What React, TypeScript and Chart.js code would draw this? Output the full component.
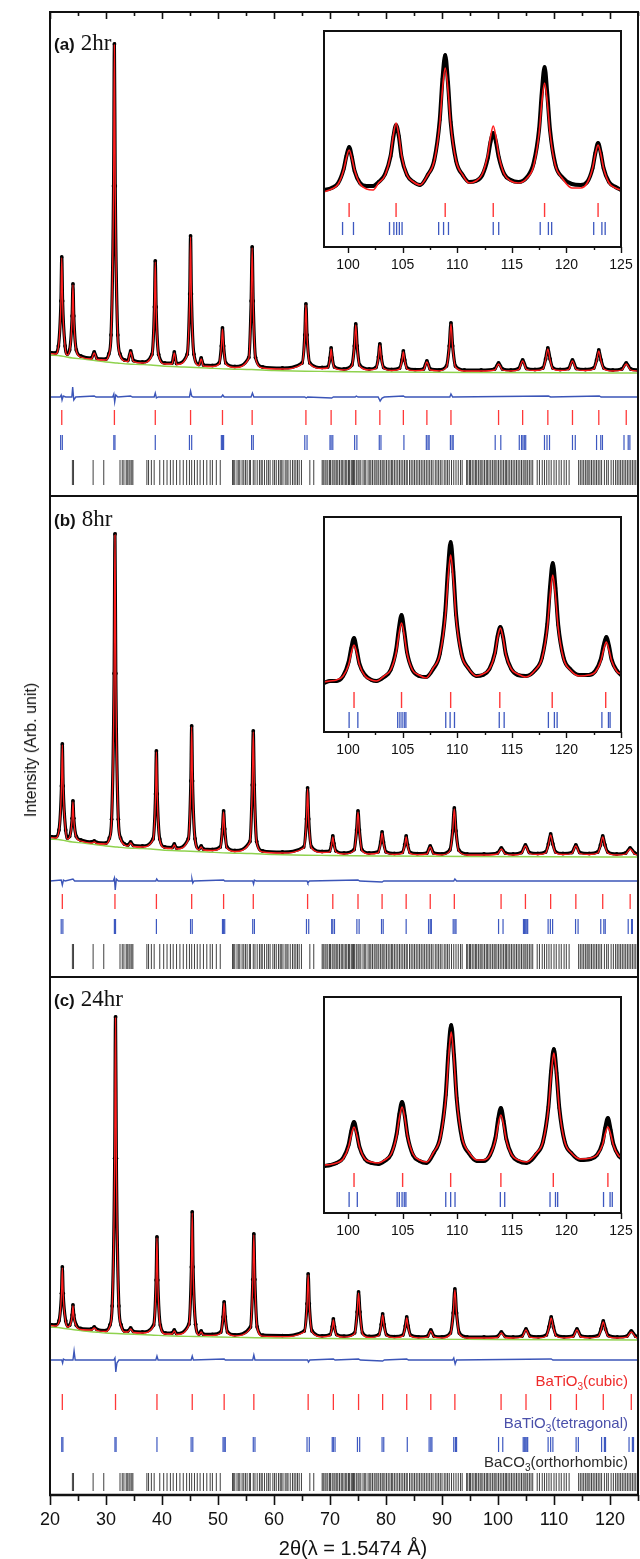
import { useEffect, useRef } from "react";
import { Chart, registerables } from "chart.js";

Chart.register(...registerables);

type P = [number, number];

// ---------------- axis values ----------------
const X_MIN = 20;
const X_MAX = 125;
const INSET_X_MIN = 97.8;
const INSET_X_MAX = 125;
const PANEL_LETTERS = ["(a)", "(b)", "(c)"];
const PANEL_TIMES = ["2hr", "8hr", "24hr"];
const PHASE_NAMES: [string, string, string][] = [
  ["BaTiO", "3", "(cubic)"],
  ["BaTiO", "3", "(tetragonal)"],
  ["BaCO", "3", "(orthorhombic)"],
];
const X_TITLE = "2\u03B8(\u03BB = 1.5474 \u00C5)";
const Y_TITLE = "Intensity (Arb. unit)";

// ---------------- main patterns (observed ~ calculated), arb. units ----------------
const profileA: P[] = [
  [20.0, 19.5], [21.0, 19], [21.5, 26], [21.95, 71], [22.1, 115], [22.25, 71], [22.7, 26], [23.1, 18],
  [23.5, 22], [23.95, 56], [24.1, 88], [24.25, 56], [24.7, 22], [25.5, 16], [27.4, 14], [27.9, 20], [28.4, 13.5],
  [30.0, 13], [30.5, 18], [30.9, 37], [31.35, 186], [31.5, 328], [31.65, 186], [32.1, 37], [32.5, 18], [33.3, 12],
  [33.9, 11.5], [34.4, 21], [34.9, 11.5], [36.5, 10], [38.2, 17.6], [38.65, 65], [38.8, 111], [38.95, 65], [39.4, 17.6],
  [40.5, 9], [41.8, 9], [42.2, 20], [42.6, 8.5], [44.5, 17.8], [44.95, 78], [45.1, 136], [45.25, 78], [45.7, 17.8],
  [46.6, 7.5], [47.0, 14], [47.4, 7], [49.0, 6.5], [50.2, 9], [50.6, 26], [50.8, 44], [51.0, 26], [51.4, 9], [53.0, 5.5],
  [55.5, 14.6], [55.92, 71], [56.1, 125], [56.28, 71], [56.7, 14.6], [58.0, 5], [61.5, 4], [65.0, 9], [65.5, 37],
  [65.7, 68], [65.9, 37], [66.4, 9], [68.6, 4.5], [69.6, 5], [70.0, 14], [70.2, 24], [70.4, 14], [70.8, 5], [72.5, 3],
  [73.9, 7], [74.35, 26], [74.6, 48], [74.85, 26], [75.3, 7], [77.0, 3], [78.2, 4.5], [78.65, 15], [78.9, 28],
  [79.15, 15], [79.6, 4.5], [81.0, 2.5], [82.4, 3.8], [82.85, 12], [83.1, 21], [83.35, 12], [83.8, 3.8], [85.2, 2.3],
  [86.7, 3], [87.3, 11], [87.9, 3], [89.5, 2.2], [90.8, 6], [91.3, 26], [91.6, 49], [91.9, 26], [92.4, 6], [94.0, 2],
  [97.0, 2], [99.4, 3], [100.1, 9], [100.8, 3], [102.3, 2], [103.7, 3.5], [104.4, 12], [105.1, 3.5], [106.6, 2.5],
  [108.0, 4], [108.5, 13], [108.9, 24], [109.3, 13], [109.8, 4], [111.1, 2.5], [112.6, 3.5], [113.3, 12], [114.0, 3.5],
  [115.6, 2.5], [117.1, 4], [117.6, 12], [118.0, 22], [118.4, 12], [118.9, 4], [120.5, 2], [122.1, 3], [122.9, 9],
  [123.7, 3], [125.0, 2],
];
const profileB: P[] = [
  [20.0, 19.5], [21.0, 19], [21.6, 26], [22.05, 70], [22.2, 112], [22.35, 70], [22.8, 26], [23.1, 18], [23.5, 19.6],
  [23.95, 37.7], [24.1, 55], [24.25, 37.7], [24.7, 19.6], [25.5, 16], [27.4, 14], [27.9, 15], [28.4, 13.5], [30.0, 13],
  [30.6, 18], [31.0, 36.8], [31.45, 182.5], [31.6, 322], [31.75, 182.5], [32.2, 36.8], [32.6, 18], [33.3, 12], [33.9, 11],
  [34.4, 14], [34.9, 10.5], [36.5, 10], [38.4, 17], [38.85, 62], [39.0, 105], [39.15, 62], [39.6, 17], [40.5, 9],
  [41.8, 8.5], [42.2, 12], [42.6, 8], [44.7, 17.3], [45.15, 75], [45.3, 130], [45.45, 75], [45.9, 17.3], [46.6, 7.2],
  [47.0, 10], [47.4, 7], [49.0, 6.5], [50.4, 9], [50.8, 27], [51.0, 45], [51.2, 27], [51.6, 9], [53.0, 5.5], [55.7, 14.6],
  [56.12, 71], [56.3, 125], [56.48, 71], [56.9, 14.6], [58.0, 5], [61.5, 4], [65.3, 9], [65.8, 37], [66.0, 68],
  [66.2, 37], [66.7, 9], [68.6, 4.5], [69.9, 4.8], [70.3, 12.5], [70.5, 20], [70.7, 12.5], [71.1, 4.8], [72.5, 3],
  [74.3, 6.4], [74.75, 26], [75.0, 45], [75.25, 26], [75.7, 6.4], [77.0, 3], [78.6, 4.2], [79.05, 14], [79.3, 24],
  [79.55, 14], [80.0, 4.2], [81.5, 2.5], [82.9, 3.6], [83.35, 11.5], [83.6, 20], [83.85, 11.5], [84.3, 3.6], [85.6, 2.3],
  [87.3, 3], [87.9, 10], [88.5, 3], [90.0, 2.2], [91.4, 6], [91.9, 25], [92.2, 48], [92.5, 25], [93.0, 6], [94.5, 2],
  [97.5, 2], [99.9, 3], [100.6, 8], [101.3, 3], [102.7, 2], [104.2, 3.5], [104.9, 11], [105.6, 3.5], [107.1, 2.5],
  [108.5, 4], [109.0, 12], [109.4, 22], [109.8, 12], [110.3, 4], [111.6, 2.5], [113.2, 3.5], [113.9, 11], [114.6, 3.5],
  [116.3, 2.5], [117.8, 4], [118.3, 11], [118.7, 20], [119.1, 11], [119.6, 4], [121.2, 2], [122.8, 3], [123.6, 8],
  [124.4, 3], [125.0, 2],
];
const profileC: P[] = [
  [20.0, 14.5], [21.0, 14], [21.6, 18.2], [22.05, 45.7], [22.2, 72], [22.35, 45.7], [22.8, 18.2], [23.2, 13], [23.5, 13.8],
  [23.95, 24.1], [24.1, 34], [24.25, 24.1], [24.7, 13.8], [25.5, 10.5], [27.4, 10], [27.9, 12], [28.4, 9.5], [30.0, 8.5],
  [30.7, 14], [31.1, 33], [31.55, 180.7], [31.7, 322], [31.85, 180.7], [32.3, 33], [32.7, 14], [33.3, 8], [33.9, 8],
  [34.4, 11], [34.9, 7.5], [36.5, 7], [38.5, 13.9], [38.95, 58.9], [39.1, 102], [39.25, 58.9], [39.7, 13.9], [40.6, 6],
  [41.8, 6], [42.2, 9], [42.6, 5.5], [44.8, 14.8], [45.25, 72], [45.4, 127], [45.55, 72], [46.0, 14.8], [46.6, 5],
  [47.0, 8], [47.4, 4.8], [49.0, 4.6], [50.5, 7], [50.9, 22], [51.1, 37], [51.3, 22], [51.7, 7], [53.0, 4.2], [55.8, 12],
  [56.22, 59.5], [56.4, 105], [56.58, 59.5], [57.0, 12], [58.0, 3.8], [61.5, 3.4], [65.4, 8], [65.9, 35.3], [66.1, 65],
  [66.3, 35.3], [66.8, 8], [68.6, 3.2], [70.0, 4.4], [70.4, 12.3], [70.6, 20], [70.8, 12.3], [71.2, 4.4], [72.5, 2.8],
  [74.4, 6.2], [74.85, 27], [75.1, 47], [75.35, 27], [75.8, 6.2], [77.0, 2.6], [78.7, 4.3], [79.15, 14.5], [79.4, 25],
  [79.65, 14.5], [80.1, 4.3], [81.5, 2.4], [83.0, 3.9], [83.45, 13], [83.7, 22], [83.95, 13], [84.4, 3.9], [85.8, 2.2],
  [87.4, 2.8], [88.0, 9], [88.6, 2.8], [90.0, 2.1], [91.5, 6], [92.0, 26], [92.3, 50], [92.6, 26], [93.1, 6], [94.5, 2],
  [97.5, 2], [99.9, 2.5], [100.6, 7], [101.3, 2.5], [102.7, 2], [104.3, 3], [105.0, 10], [105.7, 3], [107.2, 2.2],
  [108.6, 3.8], [109.1, 12], [109.5, 22], [109.9, 12], [110.4, 3.8], [111.8, 2.2], [113.4, 3], [114.1, 10], [114.8, 3],
  [116.4, 2.2], [117.9, 3.5], [118.4, 10], [118.8, 18], [119.2, 10], [119.7, 3.5], [121.3, 2], [123.0, 2.8], [123.8, 8],
  [124.6, 2.8], [125.0, 2],
];

// background (green)
const bgA: P[] = [
  [20, 18], [22, 17], [24, 15], [26, 14], [28, 12.5], [30, 11], [32, 10], [34, 9], [36, 8.5], [38, 8], [40, 7],
  [44, 6], [48, 5], [52, 4], [56, 3.5], [60, 2.5], [70, 1.5], [80, 1], [95, 0.5], [110, 0.2], [125, 0],
];
const bgB: P[] = [
  [20, 18], [22, 17], [24, 15], [26, 14], [28, 12.5], [30, 11], [32, 10], [34, 9], [36, 8.5], [38, 8], [40, 7],
  [44, 6], [48, 5], [52, 4], [56, 3.5], [60, 2.5], [70, 1.5], [80, 1], [95, 0.5], [110, 0.2], [125, 0],
];
const bgC: P[] = [
  [20, 13], [22, 12], [24, 10.5], [26, 9], [28, 8], [30, 7], [34, 6], [38, 5], [42, 4], [46, 3.5], [50, 3],
  [55, 2.5], [60, 2], [70, 1.5], [80, 1], [100, 0.5], [125, 0],
];

// difference curves (obs - calc)
const diffA: P[] = [
  [20, 0], [21.8, 0], [22.0, 2], [22.15, -3], [22.35, 1], [22.8, 0], [23.9, 0], [24.05, 10], [24.25, -3], [24.6, 0],
  [27.9, 1], [28.2, 0], [31.2, 0], [31.4, 3], [31.55, -5], [31.75, 2], [32.1, 0], [34.4, 1], [34.7, 0], [38.6, 0],
  [38.8, 4], [39.0, -1], [39.3, 0], [44.9, 0], [45.1, 6], [45.3, 1], [45.6, 0], [50.6, 0], [50.85, 2], [51.1, 0],
  [55.9, 0], [56.15, 4], [56.4, 0], [65.5, 0], [65.75, -1], [66.0, 0], [70.3, -1], [70.6, 0], [74.5, 0], [74.7, 1],
  [75.0, 0], [78.6, 0], [78.95, -4], [79.3, -1], [79.7, 0], [83.1, 1], [83.4, 0], [91.4, 0], [91.6, 3], [91.9, 0],
  [109, 1], [109.4, 0], [118.1, 1], [118.4, 0], [125, 0],
];
const diffB: P[] = [
  [20, 0], [22.0, 1], [22.2, -4], [22.4, 1], [22.7, 0], [24.1, 2], [24.4, 0], [31.3, 0], [31.5, 3], [31.65, -9],
  [31.85, 2], [32.2, 0], [38.9, 0], [39.05, 2], [39.3, 0], [45.2, 0], [45.35, 2], [45.5, -2], [45.7, 0], [51.0, 1],
  [51.2, 0], [56.2, 0], [56.35, -3], [56.5, 1], [56.8, 0], [65.9, 0], [66.05, -2], [66.3, 0], [75.0, 1], [75.3, 0],
  [79.3, -1], [79.6, 0], [92.1, 0], [92.3, 2], [92.6, 0], [125, 0],
];
const diffC: P[] = [
  [20, 0], [22.1, 0], [22.25, -3], [22.4, 1], [22.7, 0], [24.1, 0], [24.3, 9], [24.5, 0], [31.4, 0], [31.6, 2],
  [31.75, -12], [31.95, -3], [32.3, 0], [38.9, 0], [39.1, 4], [39.3, 0], [45.2, 0], [45.4, 4], [45.6, 0], [51.1, 1],
  [51.3, 0], [56.2, 0], [56.4, 5], [56.6, 0], [66.0, 0], [66.15, -2], [66.4, 0], [70.6, 1], [70.9, 0], [75.1, 1],
  [75.4, 0], [79.4, -1], [79.7, 0], [83.7, 1], [84.0, 0], [91.9, 0], [92.1, 2], [92.35, -4], [92.6, 0], [109.5, 1],
  [109.8, 0], [125, 0],
];

// Bragg positions
const cubicA = [22.1, 31.5, 38.8, 45.1, 50.8, 56.1, 65.7, 70.2, 74.6, 78.9, 83.1, 87.3, 91.6, 100.1, 104.4, 108.9, 113.3, 118.0, 122.9];
const cubicB = [22.2, 31.6, 39.0, 45.3, 51.0, 56.3, 66.0, 70.5, 75.0, 79.3, 83.6, 87.9, 92.2, 100.55, 104.9, 109.4, 113.9, 118.7, 123.6];
const cubicC = [22.2, 31.7, 39.1, 45.4, 51.1, 56.4, 66.1, 70.6, 75.1, 79.4, 83.7, 88.0, 92.3, 100.55, 105.0, 109.4, 114.0, 118.8, 123.8];

const tetraA = [21.9, 22.2, 31.4, 31.6, 38.8, 44.9, 45.3, 50.6, 50.8, 51.0, 56.0, 56.3, 65.5, 65.9, 70.0, 70.2, 70.5,
  74.4, 74.8, 78.8, 79.1, 83.2, 87.2, 87.5, 87.7, 91.5, 91.8, 92.0, 99.5, 100.5, 103.8, 104.2, 104.45, 104.7, 104.95,
  108.3, 108.75, 109.2, 113.3, 113.8, 117.6, 118.35, 118.65, 122.5, 123.25, 123.55];
const tetraB = [22.0, 22.3, 31.5, 31.7, 39.0, 45.1, 45.4, 50.8, 51.0, 51.2, 56.2, 56.5, 65.8, 66.2, 70.3, 70.5, 70.8,
  74.8, 75.2, 79.2, 79.5, 83.6, 87.6, 87.9, 88.1, 92.0, 92.3, 92.5, 100.1, 100.9, 104.55, 104.75, 104.95, 105.15, 105.3,
  108.95, 109.35, 109.75, 113.85, 114.3, 118.35, 118.9, 119.15, 123.25, 123.85, 124.0];
const tetraC = [22.1, 22.3, 31.6, 31.8, 39.1, 45.2, 45.5, 50.9, 51.1, 51.3, 56.3, 56.6, 65.9, 66.3, 70.4, 70.6, 70.9,
  74.9, 75.3, 79.3, 79.6, 83.8, 87.7, 88.0, 88.2, 92.1, 92.4, 92.6, 100.1, 100.85, 104.5, 104.7, 104.95, 105.15, 105.3,
  108.95, 109.4, 109.8, 113.95, 114.35, 118.5, 119.0, 119.2, 123.4, 124.0, 124.2];

const baco3 = [
  24.0, 24.2, 27.7, 29.6,
  32.5, 32.9, 33.2, 33.6, 33.8, 34.1, 34.3, 34.6, 34.8,
  37.3, 37.6, 38.1, 38.6, 39.6, 40.3, 40.9, 41.5, 42.0, 42.6, 43.2, 43.8, 44.4, 44.9, 45.3, 45.8, 46.3, 46.8, 47.4,
  48.0, 48.6, 49.0, 49.7, 50.4,
  52.6, 52.8, 53.0, 53.4, 53.7, 53.9, 54.3, 54.6, 54.9, 55.2, 55.6, 55.8, 56.3, 56.6, 57.0, 57.4, 57.7, 57.9, 58.3,
  58.7, 59.0, 59.3, 59.8, 60.1, 60.4, 60.8, 61.1, 61.3, 61.6, 62.0, 62.3, 62.5, 62.9, 63.3, 63.6, 63.9, 64.2, 64.5, 64.9,
  66.4, 67.1,
  68.6, 68.8, 69.1, 69.3, 69.6, 69.9, 70.1, 70.4, 70.7, 70.9, 71.2, 71.4, 71.7, 72.0, 72.2, 72.5, 72.8, 73.0, 73.3,
  73.5, 73.8, 74.0, 74.2, 74.4, 74.7, 75.0, 75.2, 75.5, 75.9, 76.2, 76.4, 76.8, 77.1, 77.3, 77.6, 77.9, 78.2, 78.4,
  78.7, 79.0, 79.3, 79.5, 79.8, 80.1, 80.4, 80.7, 81.0, 81.2, 81.5, 81.8, 82.1, 82.4, 82.7, 83.0, 83.3, 83.6, 83.8,
  84.2, 84.5, 84.8, 85.1, 85.4, 85.7, 86.0, 86.3, 86.6, 86.9, 87.2, 87.5, 87.8, 88.1, 88.4, 88.8, 89.1, 89.4, 89.7,
  90.0, 90.4, 90.7, 91.0, 91.3, 91.7, 92.1, 92.5, 92.9, 93.3, 93.6,
  94.4, 94.6, 94.9, 95.1, 95.4, 95.7, 96.0, 96.2, 96.5, 96.8, 97.0, 97.3, 97.6, 97.9, 98.1, 98.4, 98.7, 99.0, 99.3,
  99.5, 99.8, 100.1, 100.4, 100.7, 101.0, 101.3, 101.5, 101.8, 102.1, 102.4, 102.7, 103.0, 103.3, 103.6, 103.9, 104.2,
  104.5, 104.8, 105.0, 105.3, 105.6, 105.9, 106.2,
  107.0, 107.4, 107.9, 108.3, 108.7, 109.1, 109.5, 110.0, 110.4, 110.9, 111.3, 111.8, 112.2, 112.7,
  114.4, 114.7, 115.0, 115.3, 115.6, 115.9, 116.1, 116.4, 116.7, 117.0, 117.3, 117.6, 117.9, 118.2, 118.5,
  119.0, 119.4, 119.7, 120.2, 120.6, 121.0, 121.3, 121.6, 121.9, 122.2, 122.5, 122.8, 123.1, 123.4, 123.7, 124.0,
  124.3, 124.6, 124.9,
];

// ---------------- insets (high-angle zoom), arb. units ----------------
const insetCalcA: P[] = [
  [97.8, 55], [98.5, 58], [99.1, 63], [99.6, 77], [99.85, 89], [100.1, 97], [100.35, 89], [100.6, 77], [101.1, 63],
  [101.7, 58], [102.3, 57], [102.8, 64], [103.4, 72], [103.9, 92], [104.15, 112], [104.4, 124], [104.65, 112],
  [104.9, 92], [105.4, 72], [106.0, 65], [106.6, 62], [107.3, 72], [107.9, 86], [108.4, 123], [108.65, 158],
  [108.9, 179], [109.15, 158], [109.4, 123], [109.9, 86], [110.5, 72], [111.1, 64], [111.7, 66], [112.3, 73],
  [112.8, 92], [113.05, 110], [113.3, 121], [113.55, 110], [113.8, 92], [114.3, 73], [114.9, 66], [115.6, 64],
  [116.4, 69], [117.0, 81], [117.5, 114], [117.75, 145], [118.0, 164], [118.25, 145], [118.5, 114], [119.0, 81],
  [119.6, 69], [120.5, 59], [121.3, 59], [121.9, 64], [122.4, 79], [122.65, 93], [122.9, 102], [123.15, 93],
  [123.4, 79], [123.9, 64], [124.5, 59], [125.0, 57],
];
const insetObsA: P[] = [
  [97.8, 57], [98.5, 59], [99.1, 64], [99.6, 78], [99.85, 91], [100.1, 100], [100.35, 90], [100.6, 76], [101.1, 64],
  [101.7, 61], [102.3, 61], [102.8, 65], [103.4, 73], [103.9, 91], [104.15, 110], [104.4, 122], [104.65, 111],
  [104.9, 90], [105.4, 72], [106.0, 65], [106.6, 62], [107.3, 72], [107.9, 87], [108.4, 127], [108.65, 168],
  [108.9, 192], [109.15, 165], [109.4, 125], [109.9, 86], [110.5, 72], [111.1, 65], [111.7, 66], [112.3, 72],
  [112.8, 89], [113.05, 105], [113.3, 114], [113.55, 105], [113.8, 90], [114.3, 73], [114.9, 67], [115.6, 65],
  [116.4, 70], [117.0, 84], [117.5, 118], [117.75, 155], [118.0, 180], [118.25, 153], [118.5, 117], [119.0, 82],
  [119.6, 70], [120.5, 63], [121.3, 62], [121.9, 65], [122.4, 79], [122.65, 94], [122.9, 104], [123.15, 94],
  [123.4, 79], [123.9, 65], [124.5, 60], [125.0, 57],
];
const insetCalcB: P[] = [
  [97.8, 50], [98.35, 51], [98.95, 52], [99.55, 56], [100.05, 67], [100.3, 79], [100.55, 87], [100.8, 79], [101.05, 67],
  [101.55, 56], [102.15, 52], [102.6, 51], [103.3, 56], [103.9, 62], [104.4, 79], [104.65, 97], [104.9, 109],
  [105.15, 97], [105.4, 79], [105.9, 62], [106.5, 57], [107.15, 54], [107.8, 64], [108.4, 77], [108.9, 114],
  [109.15, 152], [109.4, 177], [109.65, 152], [109.9, 114], [110.4, 77], [111.0, 64], [111.75, 56], [112.35, 58],
  [112.95, 63], [113.45, 78], [113.7, 94], [113.95, 104], [114.2, 94], [114.45, 78], [114.95, 63], [115.55, 58],
  [116.3, 55], [117.15, 62], [117.75, 73], [118.25, 104], [118.5, 136], [118.75, 157], [119.0, 136], [119.25, 104],
  [119.75, 73], [120.35, 62], [121.2, 56], [122.05, 57], [122.65, 60], [123.15, 71], [123.4, 82], [123.65, 90],
  [123.9, 82], [124.15, 71], [124.65, 60], [125.0, 58],
];
const insetObsB: P[] = [
  [97.8, 49], [98.35, 51], [98.95, 51], [99.55, 56], [100.05, 70], [100.3, 84], [100.55, 94], [100.8, 82], [101.05, 68],
  [101.55, 57], [102.15, 52], [102.6, 51], [103.3, 55], [103.9, 62], [104.4, 82], [104.65, 103], [104.9, 117],
  [105.15, 101], [105.4, 80], [105.9, 62], [106.5, 56], [107.15, 55], [107.8, 63], [108.4, 78], [108.9, 119],
  [109.15, 162], [109.4, 190], [109.65, 160], [109.9, 117], [110.4, 78], [111.0, 64], [111.75, 56], [112.35, 57],
  [112.95, 63], [113.45, 79], [113.7, 96], [113.95, 105], [114.2, 95], [114.45, 78], [114.95, 63], [115.55, 57],
  [116.3, 56], [117.15, 62], [117.75, 74], [118.25, 108], [118.5, 145], [118.75, 169], [119.0, 144], [119.25, 107],
  [119.75, 74], [120.35, 63], [121.2, 57], [122.05, 57], [122.65, 61], [123.15, 73], [123.4, 86], [123.65, 95],
  [123.9, 86], [124.15, 72], [124.65, 61], [125.0, 57],
];
const insetCalcC: P[] = [
  [97.8, 48], [98.4, 48.5], [98.95, 50], [99.55, 54], [100.05, 66], [100.3, 78], [100.55, 86], [100.8, 78],
  [101.05, 66], [101.55, 54], [102.15, 51], [102.8, 50], [103.35, 53], [103.95, 59], [104.45, 77], [104.7, 95],
  [104.95, 106], [105.2, 95], [105.45, 77], [105.95, 59], [106.55, 53], [107.2, 51], [107.85, 61], [108.45, 75],
  [108.95, 114], [109.2, 154], [109.45, 181], [109.7, 154], [109.95, 114], [110.45, 75], [111.05, 61], [111.8, 53],
  [112.4, 53], [113.0, 58], [113.5, 73], [113.75, 88], [114.0, 98], [114.25, 88], [114.5, 73], [115.0, 58],
  [115.6, 53], [116.35, 51], [117.25, 60], [117.85, 71], [118.35, 104], [118.6, 138], [118.85, 160], [119.1, 138],
  [119.35, 104], [119.85, 71], [120.45, 60], [121.3, 54], [122.2, 55], [122.8, 58], [123.3, 68], [123.55, 79],
  [123.8, 86], [124.05, 79], [124.3, 68], [124.8, 57], [125.0, 56],
];
const insetObsC: P[] = [
  [97.8, 47], [98.4, 48], [98.95, 50], [99.55, 55], [100.05, 68], [100.3, 82], [100.55, 91], [100.8, 80],
  [101.05, 66], [101.55, 54], [102.15, 50], [102.8, 49], [103.35, 52], [103.95, 59], [104.45, 79], [104.7, 99],
  [104.95, 111], [105.2, 97], [105.45, 77], [105.95, 58], [106.55, 52], [107.2, 50], [107.85, 60], [108.45, 76],
  [108.95, 118], [109.2, 162], [109.45, 188], [109.7, 158], [109.95, 115], [110.45, 74], [111.05, 60], [111.8, 52],
  [112.4, 52], [113.0, 58], [113.5, 75], [113.75, 94], [114.0, 105], [114.25, 92], [114.5, 74], [115.0, 58],
  [115.6, 52], [116.35, 50], [117.25, 59], [117.85, 71], [118.35, 106], [118.6, 142], [118.85, 164], [119.1, 140],
  [119.35, 105], [119.85, 71], [120.45, 60], [121.3, 53], [122.2, 54], [122.8, 58], [123.3, 70], [123.55, 85],
  [123.8, 95], [124.05, 83], [124.3, 69], [124.8, 57], [125.0, 55],
];

// ---------------- styling / layout constants ----------------
const SANS = "'Liberation Sans', Arial, Helvetica, sans-serif";
const SERIF = "'Liberation Serif', 'Times New Roman', serif";
const RED = "#ff1e1e";
const TICK_RED = "#ff3838";
const BLUE = "#3b55b8";
const TICK_BLUE = "#3d58c0";
const GREEN = "#8fd24e";
const BLACK_TICK = "#2a2a2a";

const W = 640;
const H = 1559;
const Y_MAX = 1483; // chart area height in value units
const PANEL_SPLITS = [999, 518];

const panels = [
  { profile: profileA, bg: bgA, diff: diffA, cubic: cubicA, tetra: tetraA, off: 1122, dC: -24, rC: -44.5, rR: 7.5, bC: -69.5, bR: 7.5, kC: -99.5, kR: 12.5 },
  { profile: profileB, bg: bgB, diff: diffB, cubic: cubicB, tetra: tetraB, off: 638, dC: -24, rC: -44.5, rR: 7.5, bC: -69.5, bR: 7.5, kC: -99.5, kR: 12.5 },
  { profile: profileC, bg: bgC, diff: diffC, cubic: cubicC, tetra: tetraC, off: 155, dC: -20, rC: -62, rR: 8, bC: -104.5, bR: 7.5, kC: -142, kR: 9 },
];

const insets = [
  { calc: insetCalcA, obs: insetObsA, cubic: cubicA, tetra: tetraA, top: 31, h: 216, rC: 37, rR: 7, bC: 18.5, bR: 6.5 },
  { calc: insetCalcB, obs: insetObsB, cubic: cubicB, tetra: tetraB, top: 517, h: 215, rC: 32, rR: 8, bC: 12, bR: 8 },
  { calc: insetCalcC, obs: insetObsC, cubic: cubicC, tetra: tetraC, top: 997, h: 216, rC: 33, rR: 7, bC: 13.5, bR: 7.5 },
];
const INSET_LEFT = 324;
const INSET_RIGHT = 621;
const INSET_PAD_L = 20;
const INSET_PAD_R = 16;
const INSET_PAD_T = 4;
const INSET_AXIS_H = 30;

const xy = (arr: P[], off: number) => arr.map(([x, y]) => ({ x, y: y + off }));
const tk = (xs: number[], y: number) => xs.map((x) => ({ x, y }));

function lineDs(data: any[], color: string, width: number, order: number, smooth: boolean, extra: any = {}) {
  return {
    data,
    borderColor: color,
    backgroundColor: color,
    borderWidth: width,
    pointRadius: 0,
    fill: false,
    order,
    tension: 0,
    ...(smooth ? { cubicInterpolationMode: "monotone" } : {}),
    ...extra,
  };
}
function tickDs(data: any[], color: string, radius: number, width: number, order: number) {
  return {
    data,
    showLine: false,
    borderColor: color,
    backgroundColor: color,
    pointStyle: "line",
    pointRotation: 90,
    pointRadius: radius,
    pointBorderColor: color,
    pointBorderWidth: width,
    order,
  };
}

const mainFrame = {
  id: "mainFrame",
  afterDatasetsDraw(chart: any) {
    const { ctx, chartArea: a, scales } = chart;
    const x = scales.x;
    const y = scales.y;
    ctx.save();
    ctx.strokeStyle = "#111";
    ctx.lineWidth = 2;
    ctx.strokeRect(a.left, a.top, a.right - a.left, a.bottom - a.top);
    for (const v of PANEL_SPLITS) {
      const py = Math.round(y.getPixelForValue(v));
      ctx.beginPath();
      ctx.moveTo(a.left, py);
      ctx.lineTo(a.right, py);
      ctx.stroke();
    }
    ctx.lineWidth = 2.5;
    ctx.beginPath();
    ctx.moveTo(a.left - 1, a.bottom);
    ctx.lineTo(a.right + 1, a.bottom);
    ctx.stroke();
    ctx.lineWidth = 1.6;
    for (let v = X_MIN; v <= X_MAX; v += 5) {
      const px = Math.round(x.getPixelForValue(v)) + 0.5;
      const major = v % 10 === 0;
      ctx.beginPath();
      ctx.moveTo(px, a.top);
      ctx.lineTo(px, a.top + (major ? 7 : 4));
      ctx.moveTo(px, a.bottom);
      ctx.lineTo(px, a.bottom + (major ? 10 : 6));
      ctx.stroke();
    }
    ctx.restore();
  },
};

const insetFrame = {
  id: "insetFrame",
  afterDatasetsDraw(chart: any) {
    const { ctx, chartArea: a, scales } = chart;
    const x = scales.x;
    ctx.save();
    ctx.strokeStyle = "#111";
    ctx.lineWidth = 2;
    ctx.strokeRect(a.left, a.top, a.right - a.left, a.bottom - a.top);
    ctx.lineWidth = 1.4;
    for (let v = 97.5; v <= INSET_X_MAX; v += 2.5) {
      if (v < INSET_X_MIN) continue;
      const px = Math.round(x.getPixelForValue(v)) + 0.5;
      const major = v % 5 === 0;
      ctx.beginPath();
      ctx.moveTo(px, a.bottom);
      ctx.lineTo(px, a.bottom + (major ? 6 : 3));
      ctx.stroke();
    }
    ctx.restore();
  },
};

function mainConfig(): any {
  const datasets: any[] = [];
  panels.forEach((p) => {
    datasets.push(lineDs(xy(p.profile, p.off), RED, 1.3, 0, true));
    datasets.push(lineDs(xy(p.bg, p.off), GREEN, 1.4, 1, true));
    datasets.push(
      lineDs(xy(p.profile, p.off + 1), "#000", 3.2, 2, true, {
        pointRadius: 1.9,
        pointBackgroundColor: "#000",
        pointBorderWidth: 0,
      })
    );
    datasets.push(lineDs(xy(p.diff, p.off + p.dC), BLUE, 1.4, 3, false));
    datasets.push(tickDs(tk(p.cubic, p.off + p.rC), TICK_RED, p.rR, 1.3, 4));
    datasets.push(tickDs(tk(p.tetra, p.off + p.bC), TICK_BLUE, p.bR, 1.2, 4));
    datasets.push(tickDs(tk(baco3, p.off + p.kC), BLACK_TICK, p.kR, 0.9, 4));
  });
  return {
    type: "line",
    data: { datasets },
    options: {
      responsive: false,
      animation: false,
      devicePixelRatio: 1,
      events: [],
      layout: { autoPadding: false, padding: { left: 50, right: 2, top: 12, bottom: 0 } },
      plugins: { legend: { display: false }, tooltip: { enabled: false } },
      scales: {
        x: {
          type: "linear",
          min: X_MIN,
          max: X_MAX,
          position: "bottom",
          grid: { display: false, drawTicks: true, tickLength: 14 },
          border: { display: false },
          ticks: {
            stepSize: 10,
            includeBounds: false,
            maxTicksLimit: 40,
            autoSkip: false,
            maxRotation: 0,
            padding: 0,
            color: "#111",
            font: { family: SANS, size: 18 },
            callback: (v: any) => (Number(v) % 10 === 0 ? String(v) : ""),
          },
          afterFit: (s: any) => {
            s.height = 64;
          },
        },
        y: { type: "linear", min: 0, max: Y_MAX, display: false },
      },
    },
    plugins: [mainFrame],
  };
}

function insetConfig(ins: (typeof insets)[number]): any {
  return {
    type: "line",
    data: {
      datasets: [
        lineDs(xy(ins.calc, 0), RED, 1.6, 0, true),
        lineDs(xy(ins.obs, 0), "#000", 4, 1, true, {
          pointRadius: 1.8,
          pointBackgroundColor: "#000",
          pointBorderWidth: 0,
        }),
        tickDs(tk(ins.cubic, ins.rC), TICK_RED, ins.rR, 1.4, 2),
        tickDs(tk(ins.tetra, ins.bC), TICK_BLUE, ins.bR, 1.3, 2),
      ],
    },
    options: {
      responsive: false,
      animation: false,
      devicePixelRatio: 1,
      events: [],
      layout: { autoPadding: false, padding: { left: INSET_PAD_L, right: INSET_PAD_R, top: INSET_PAD_T, bottom: 0 } },
      plugins: { legend: { display: false }, tooltip: { enabled: false } },
      scales: {
        x: {
          type: "linear",
          min: INSET_X_MIN,
          max: INSET_X_MAX,
          grid: { display: false, drawTicks: true, tickLength: 10 },
          border: { display: false },
          ticks: {
            stepSize: 5,
            includeBounds: false,
            maxTicksLimit: 20,
            autoSkip: false,
            maxRotation: 0,
            padding: 0,
            color: "#111",
            font: { family: SANS, size: 14 },
            callback: (v: any) => (Math.abs(Number(v) % 5) < 1e-6 ? String(v) : ""),
          },
          afterFit: (s: any) => {
            s.height = INSET_AXIS_H;
          },
        },
        y: { type: "linear", min: 0, max: ins.h, display: false },
      },
    },
    plugins: [insetFrame],
  };
}

const PANEL_LABEL_Y = [43, 519, 999];
const PHASE_LABEL_Y = [1381, 1423, 1462];
const PHASE_COLORS = ["#ee2a2a", "#4a50aa", "#2a2a2a"];

export default function App() {
  const mainRef = useRef<HTMLCanvasElement>(null);
  const i0 = useRef<HTMLCanvasElement>(null);
  const i1 = useRef<HTMLCanvasElement>(null);
  const i2 = useRef<HTMLCanvasElement>(null);
  const insetRefs = [i0, i1, i2];

  useEffect(() => {
    const charts: Chart[] = [];
    if (mainRef.current) charts.push(new Chart(mainRef.current, mainConfig()));
    insets.forEach((ins, i) => {
      const c = insetRefs[i].current;
      if (c) charts.push(new Chart(c, insetConfig(ins)));
    });
    return () => charts.forEach((c) => c.destroy());
  }, []);

  const insetW = INSET_RIGHT - INSET_LEFT + INSET_PAD_L + INSET_PAD_R;

  return (
    <div style={{ position: "absolute", left: 0, top: 0, width: W, height: H, background: "#fff", overflow: "hidden" }}>
      <canvas ref={mainRef} width={W} height={H} style={{ position: "absolute", left: 0, top: 0, width: W, height: H }} />
      {insets.map((ins, i) => {
        const ch = INSET_PAD_T + ins.h + INSET_AXIS_H;
        return (
          <canvas
            key={i}
            ref={insetRefs[i]}
            width={insetW}
            height={ch}
            style={{ position: "absolute", left: INSET_LEFT - INSET_PAD_L, top: ins.top - INSET_PAD_T, width: insetW, height: ch }}
          />
        );
      })}
      {PANEL_LETTERS.map((l, i) => (
        <div
          key={l}
          style={{ position: "absolute", left: 54, top: PANEL_LABEL_Y[i] - 13, height: 26, lineHeight: "26px", whiteSpace: "nowrap", color: "#111" }}
        >
          <span style={{ fontFamily: SANS, fontWeight: 700, fontSize: 17 }}>{l}</span>
          <span style={{ fontFamily: SERIF, fontSize: 23, marginLeft: 6 }}>{PANEL_TIMES[i]}</span>
        </div>
      ))}
      {PHASE_NAMES.map((n, i) => (
        <div
          key={i}
          style={{ position: "absolute", right: 12, top: PHASE_LABEL_Y[i] - 10, height: 20, lineHeight: "20px", whiteSpace: "nowrap", fontFamily: SANS, fontSize: 15, color: PHASE_COLORS[i] }}
        >
          {n[0]}
          <span style={{ fontSize: 10, position: "relative", top: 4 }}>{n[1]}</span>
          {n[2]}
        </div>
      ))}
      <div
        style={{ position: "absolute", left: 31, top: 750, transform: "translate(-50%, -50%) rotate(-90deg)", whiteSpace: "nowrap", fontFamily: SANS, fontSize: 16, color: "#111" }}
      >
        {Y_TITLE}
      </div>
      <div
        style={{ position: "absolute", left: 353, top: 1548, transform: "translate(-50%, -50%)", whiteSpace: "nowrap", fontFamily: SANS, fontSize: 20, color: "#111" }}
      >
        {X_TITLE}
      </div>
    </div>
  );
}
